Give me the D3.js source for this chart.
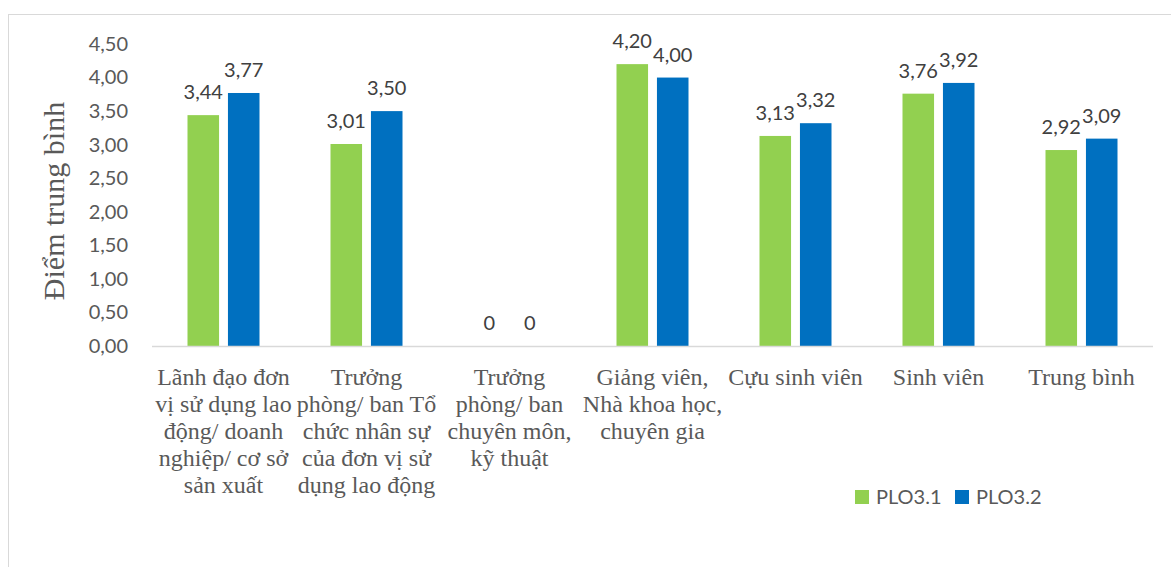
<html>
<head>
  <meta charset="utf-8">
  <script src="https://d3js.org/d3.v7.min.js"></script>
  <style>
    body { margin: 0; background: #fff; }
  </style>
  <script>
    // categories, one "\n" per wrapped line as in the original
    var categories = [
      "Lãnh đạo đơn\nvị sử dụng lao\nđộng/ doanh\nnghiệp/ cơ sở\nsản xuất",
      "Trưởng\nphòng/ ban Tổ\nchức nhân sự\ncủa đơn vị sử\ndụng lao động",
      "Trưởng\nphòng/ ban\nchuyên môn,\nkỹ thuật",
      "Giảng viên,\nNhà khoa học,\nchuyên gia",
      "Cựu sinh viên",
      "Sinh viên",
      "Trung bình"
    ];
    var seriesNames = [ "PLO3.1", "PLO3.2" ];
    var plo31 = [ 3.44, 3.01, 0, 4.20, 3.13, 3.76, 2.92 ];
    var plo32 = [ 3.77, 3.50, 0, 4.00, 3.32, 3.92, 3.09 ];
    var yTicks = [ 0, 0.5, 1, 1.5, 2, 2.5, 3, 3.5, 4, 4.5 ];
    var colors = [ "#92D050", "#0070C0" ];

    function makeGraph() {
        var svg = d3.select( "#graph" );
        var loc = d3.formatLocale( { decimal: ",", thousands: ".", grouping: [3], currency: ["", ""] } );
        var f2 = loc.format( ".2f" );

        // chart frame
        svg.append( "rect" ).attr( "x", 8.5 ).attr( "y", 14.5 )
            .attr( "width", 1200 ).attr( "height", 600 )
            .attr( "fill", "none" ).attr( "stroke", "#d9d9d9" );

        var x0 = d3.scaleBand().domain( d3.range( categories.length ) ).range( [ 152, 1153 ] );
        var x1 = d3.scaleBand().domain( seriesNames ).range( [ 35.5, 107.5 ] ).paddingInner( 0.22 );
        var y = d3.scaleLinear().domain( [ 0, 4.5 ] ).range( [ 346, 44 ] );

        // y axis
        var ya = svg.append( "g" ).attr( "transform", "translate(128,0)" )
            .call( d3.axisLeft( y ).tickValues( yTicks ).tickSize( 0 ).tickPadding( 0 ).tickFormat( f2 ) );
        ya.select( ".domain" ).remove();
        ya.selectAll( "text" ).attr( "font-family", "Lato" ).attr( "font-size", 20 ).attr( "fill", "#595959" );

        // y title
        svg.append( "text" ).attr( "transform", "translate(64,201) rotate(-90)" )
            .attr( "text-anchor", "middle" ).attr( "font-family", "Liberation Serif" )
            .attr( "font-size", 30 ).attr( "fill", "#595959" ).text( "Điểm trung bình" );

        var data = [ plo31, plo32 ];
        var groups = svg.append( "g" ).selectAll( "g" ).data( categories ).join( "g" )
            .attr( "transform", (d, i) => "translate(" + x0( i ) + ",0)" );

        groups.selectAll( "rect" )
            .data( (d, i) => seriesNames.map( (s, k) => ( { s: s, k: k, v: data[k][i] } ) ) )
            .join( "rect" )
            .attr( "x", d => x1( d.s ) ).attr( "width", x1.bandwidth() )
            .attr( "y", d => y( d.v ) ).attr( "height", d => y( 0 ) - y( d.v ) )
            .attr( "fill", d => colors[d.k] );

        groups.selectAll( "text.val" )
            .data( (d, i) => seriesNames.map( (s, k) => ( { s: s, k: k, v: data[k][i] } ) ) )
            .join( "text" ).attr( "class", "val" )
            .attr( "x", d => x1( d.s ) + x1.bandwidth() / 2 )
            .attr( "y", d => y( d.v ) - 16 )
            .attr( "text-anchor", "middle" ).attr( "font-family", "Lato" )
            .attr( "font-size", 20 ).attr( "fill", "#404040" )
            .text( d => d.v === 0 ? "0" : f2( d.v ) );

        // x axis line
        svg.append( "line" ).attr( "x1", x0.range()[0] ).attr( "x2", x0.range()[1] )
            .attr( "y1", y( 0 ) + 0.5 ).attr( "y2", y( 0 ) + 0.5 )
            .attr( "stroke", "#d9d9d9" ).attr( "stroke-width", 1.5 );

        // x labels
        groups.append( "text" ).attr( "text-anchor", "middle" )
            .attr( "font-family", "Liberation Serif" ).attr( "font-size", 24 ).attr( "fill", "#595959" )
            .selectAll( "tspan" ).data( d => d.split( "\n" ) ).join( "tspan" )
            .attr( "x", x0.bandwidth() / 2 ).attr( "y", (d, j) => 385 + j * 27 )
            .text( d => d );

        // legend
        var lg = svg.append( "g" ).selectAll( "g" ).data( seriesNames ).join( "g" )
            .attr( "transform", (d, i) => "translate(" + ( 855 + i * 100 ) + ",490)" );
        lg.append( "rect" ).attr( "width", 14 ).attr( "height", 14 ).attr( "fill", (d, i) => colors[i] );
        lg.append( "text" ).attr( "x", 21 ).attr( "y", 14 )
            .attr( "font-family", "Lato" ).attr( "font-size", 20 ).attr( "fill", "#595959" )
            .text( d => d );
    }
  </script>
</head>
<body onload="makeGraph()">
  <svg id="graph" width="1171" height="567"></svg>
</body>
</html>
